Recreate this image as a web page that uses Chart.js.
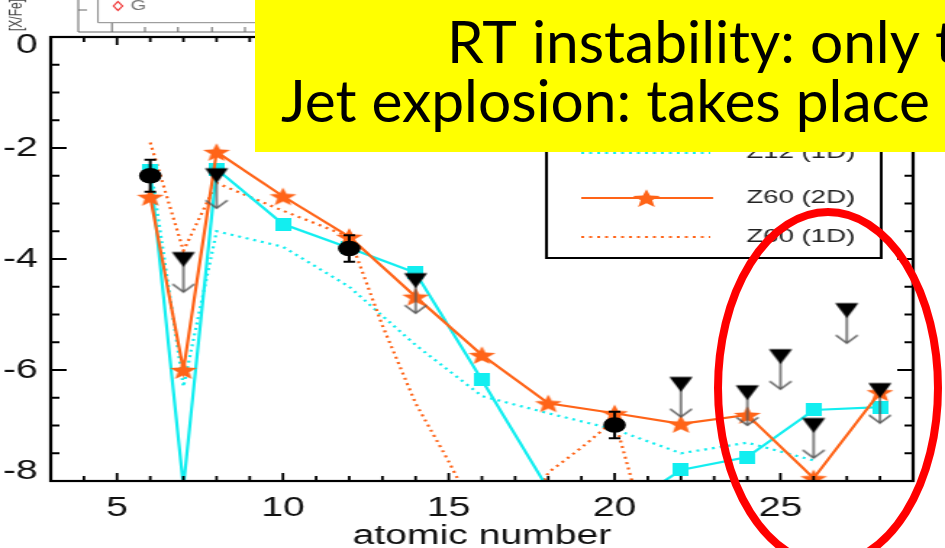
<!DOCTYPE html>
<html>
<head>
<meta charset="utf-8">
<script src="https://cdn.jsdelivr.net/npm/chart.js@4.4.1/dist/chart.umd.min.js"></script>
<style>
  html, body { margin: 0; padding: 0; background: #fff; overflow: hidden; }
  #stage { position: relative; width: 945px; height: 548px; overflow: hidden; }
  #overlay { position: absolute; left: 0; top: 0; pointer-events: none; }
</style>
</head>
<body>
<div id="stage">
  <canvas id="chart" width="652" height="548" style="position:absolute;left:0;top:0;width:945px;height:548px"></canvas>
  <canvas id="overlay" width="945" height="548"></canvas>
</div>
<script>
// observed abundances with error bars
const obsZ = [6, 12, 20];
const obsVal = [-2.5, -3.81, -6.99];
const obsErr = [0.29, 0.24, 0.24];

// upper limits
const limZ = [7, 8, 14, 22, 24, 25, 26, 27, 28];
const limVal = [-4.01, -2.5, -4.39, -6.26, -6.41, -5.76, -7.0, -4.93, -6.37];

// 2D models
const modelZ = [6, 7, 8, 10, 12, 14, 16, 18, 20, 22, 24, 26, 28];
const z60_2D = [-2.88, -6.0, -2.07, -2.87, -3.6, -4.68, -5.73, -6.6, -6.78, -6.97, -6.81, -7.95, -6.4];
const z12_2D = [-2.4, -8.1, -2.38, -3.37, -3.8, -4.25, -6.18, -8.15, -8.6, -7.8, -7.57, -6.72, -6.67];

// 1D models
const z12_1D_Z = [6, 7, 8, 10, 12, 14, 16, 18, 20, 22, 24, 26];
const z12_1D = [-2.3, -6.3, -3.5, -3.78, -4.5, -5.55, -6.47, -6.78, -7.07, -7.5, -7.31, -7.63];
const z60_1D_Z = [6, 7, 8, 10, 12, 13, 14, 15, 16, 17, 18, 19, 20, 21];
const z60_1D = [-1.9, -3.85, -2.63, -3.13, -3.6, -5.2, -6.6, -7.65, -8.8, -9.0, -7.85, -7.4, -6.9, -9.0];

const xTicks = [5, 10, 15, 20, 25];
const yTicks = [0, -2, -4, -6, -8];
const noteLines = ['RT instability: only t', 'Jet explosion: takes place'];

const ORANGE = '#ff6418';
const CYAN = '#12eef0';
const FONT = "'Liberation Sans', Arial, sans-serif";

function pts(zs, vals) {
  return zs.map((z, i) => ({x: z, y: vals[i]}));
}

// marker sprites (drawn on the narrow canvas, widened by the css stretch)
function starSprite(color) {
  const c = document.createElement('canvas');
  c.width = 22; c.height = 22;
  const g = c.getContext('2d');
  g.fillStyle = color;
  g.beginPath();
  for (let i = 0; i < 10; i++) {
    const r = i % 2 ? 4.2 : 9.8;
    const a = -Math.PI / 2 + i * Math.PI / 5;
    g.lineTo(11 + r * Math.cos(a), 12 + r * Math.sin(a));
  }
  g.closePath();
  g.fill();
  return c;
}

function squareSprite(color) {
  const c = document.createElement('canvas');
  c.width = 11; c.height = 13;
  const g = c.getContext('2d');
  g.fillStyle = color;
  g.fillRect(0, 0, 11, 13);
  return c;
}

function limitSprite() {
  const c = document.createElement('canvas');
  c.width = 18; c.height = 68;
  const g = c.getContext('2d');
  const cx = 9, cy = 34;
  g.strokeStyle = '#555';
  g.lineWidth = 1.4;
  g.beginPath(); g.moveTo(cx, cy + 5); g.lineTo(cx, cy + 32.5); g.stroke();
  g.beginPath(); g.moveTo(cx - 7.5, cy + 24.5); g.lineTo(cx, cy + 32.5); g.lineTo(cx + 7.5, cy + 24.5); g.stroke();
  g.fillStyle = '#000';
  g.beginPath(); g.moveTo(cx - 8, cy - 7.5); g.lineTo(cx + 8, cy - 7.5); g.lineTo(cx, cy + 7.5); g.closePath(); g.fill();
  return c;
}

const starImg = starSprite(ORANGE);
const squareImg = squareSprite(CYAN);
const limitImg = limitSprite();

const errorBars = {
  id: 'errorBars',
  afterDatasetsDraw(chart) {
    const {ctx, scales: {x, y}} = chart;
    ctx.save();
    ctx.strokeStyle = '#000';
    ctx.lineWidth = 2;
    obsZ.forEach((z, i) => {
      const px = x.getPixelForValue(z);
      const y1 = y.getPixelForValue(obsVal[i] + obsErr[i]);
      const y2 = y.getPixelForValue(obsVal[i] - obsErr[i]);
      ctx.beginPath();
      ctx.moveTo(px, y1); ctx.lineTo(px, y2);
      ctx.moveTo(px - 4, y1); ctx.lineTo(px + 4, y1);
      ctx.moveTo(px - 4, y2); ctx.lineTo(px + 4, y2);
      ctx.stroke();
    });
    ctx.restore();
  }
};

const frame = {
  id: 'frame',
  beforeDraw(chart) {
    // bits of the panel sitting above this one
    const ctx = chart.ctx;
    ctx.save();
    ctx.strokeStyle = '#666';
    ctx.lineWidth = 1;
    ctx.beginPath();
    ctx.moveTo(54, 0); ctx.lineTo(54, 32); ctx.lineTo(420, 32);
    ctx.moveTo(54, 10); ctx.lineTo(60, 10);
    [77.2, 100, 122.8, 146.2, 169].forEach((tx, i) => {
      ctx.moveTo(tx, 32); ctx.lineTo(tx, i === 0 ? 23 : 27);
    });
    ctx.stroke();
    ctx.strokeStyle = '#888';
    ctx.beginPath();
    ctx.moveTo(67.6, 0); ctx.lineTo(67.6, 22.7); ctx.lineTo(420, 22.7);
    ctx.stroke();
    ctx.strokeStyle = '#f03030';
    ctx.lineWidth = 1.2;
    ctx.beginPath();
    ctx.moveTo(81.4, 1.5); ctx.lineTo(84.5, 6); ctx.lineTo(81.4, 10.5); ctx.lineTo(78.3, 6); ctx.closePath();
    ctx.stroke();
    ctx.fillStyle = '#777';
    ctx.font = '14px ' + FONT;
    ctx.textBaseline = 'middle';
    ctx.fillText('G', 90, 6.5);
    ctx.translate(12, 31);
    ctx.rotate(-Math.PI / 2);
    ctx.fillStyle = '#444';
    ctx.font = '12px ' + FONT;
    ctx.textBaseline = 'middle';
    ctx.fillText('[X/Fe]', 0, 0);
    ctx.restore();
  },
  afterDraw(chart) {
    const {ctx, chartArea: a, scales: {x, y}} = chart;
    ctx.save();
    ctx.strokeStyle = '#000';
    ctx.lineWidth = 1.8;
    ctx.beginPath();
    for (let v = 3; v <= 29; v++) {
      const px = x.getPixelForValue(v);
      const len = v % 5 === 0 ? 8 : 5;
      ctx.moveTo(px, a.bottom); ctx.lineTo(px, a.bottom - len);
      ctx.moveTo(px, a.top); ctx.lineTo(px, a.top + len);
    }
    ctx.stroke();
    ctx.lineWidth = 2;
    ctx.beginPath();
    for (let v = -8; v <= 0; v += 0.5) {
      const py = y.getPixelForValue(v);
      const len = v % 2 === 0 ? 11 : 6;
      ctx.moveTo(a.left, py); ctx.lineTo(a.left + len, py);
      ctx.moveTo(a.right, py); ctx.lineTo(a.right - len, py);
    }
    ctx.stroke();
    ctx.lineWidth = 2.2;
    ctx.strokeRect(a.left, a.top, a.right - a.left, a.bottom - a.top);

    // y tick labels, end labels kept inside the frame height
    ctx.fillStyle = '#111';
    ctx.font = '27px ' + FONT;
    ctx.textAlign = 'right';
    ctx.textBaseline = 'middle';
    yTicks.forEach(v => {
      const py = Math.min(Math.max(y.getPixelForValue(v), a.top + 8), a.bottom - 10);
      ctx.fillText(String(v), a.left - 9, py + 1);
    });
    ctx.textAlign = 'left';

    // legend box
    ctx.fillStyle = '#fff';
    ctx.fillRect(377, 96, 231, 162);
    ctx.lineWidth = 2;
    ctx.strokeRect(377, 96, 231, 162);
    ctx.lineWidth = 2.2;
    ctx.setLineDash([2, 3.5]);
    ctx.strokeStyle = CYAN;
    ctx.beginPath(); ctx.moveTo(401, 153); ctx.lineTo(490, 153); ctx.stroke();
    ctx.strokeStyle = ORANGE;
    ctx.beginPath(); ctx.moveTo(401, 237); ctx.lineTo(490, 237); ctx.stroke();
    ctx.setLineDash([]);
    ctx.beginPath(); ctx.moveTo(401, 198); ctx.lineTo(492, 198); ctx.stroke();
    ctx.drawImage(starImg, 446 - 11, 198 - 11);
    ctx.fillStyle = '#222';
    ctx.font = '19px ' + FONT;
    ctx.textBaseline = 'middle';
    ctx.fillText('Z12 (1D)', 515, 153);
    ctx.fillText('Z60 (2D)', 515, 198);
    ctx.fillText('Z60 (1D)', 515, 237);
    ctx.restore();
  }
};

new Chart(document.getElementById('chart'), {
  type: 'scatter',
  data: {
    datasets: [
      {
        label: 'observed',
        data: pts(obsZ, obsVal),
        showLine: false,
        pointStyle: 'circle',
        pointRadius: 7.8,
        pointBackgroundColor: '#000',
        pointBorderWidth: 0,
        clip: 0
      },
      {
        label: 'upper limits',
        data: pts(limZ, limVal),
        showLine: false,
        pointStyle: limitImg,
        pointRadius: 8,
        clip: 0
      },
      {
        label: 'Z60 (2D)',
        data: pts(modelZ, z60_2D),
        showLine: true,
        borderColor: ORANGE,
        borderWidth: 2.2,
        pointStyle: starImg,
        pointRadius: 9,
        clip: 0
      },
      {
        label: 'Z12 (2D)',
        data: pts(modelZ, z12_2D),
        showLine: true,
        borderColor: CYAN,
        borderWidth: 2.2,
        pointStyle: squareImg,
        pointRadius: 6,
        clip: 0
      },
      {
        label: 'Z60 (1D)',
        data: pts(z60_1D_Z, z60_1D),
        showLine: true,
        borderColor: ORANGE,
        borderWidth: 2.2,
        borderDash: [2, 3.5],
        pointRadius: 0,
        clip: 0
      },
      {
        label: 'Z12 (1D)',
        data: pts(z12_1D_Z, z12_1D),
        showLine: true,
        borderColor: CYAN,
        borderWidth: 2.2,
        borderDash: [2, 3.5],
        pointRadius: 0,
        clip: 0
      }
    ]
  },
  options: {
    responsive: false,
    devicePixelRatio: 1,
    animation: false,
    layout: { padding: { top: 37, right: 22, left: 0, bottom: 0 } },
    plugins: { legend: { display: false }, tooltip: { enabled: false } },
    scales: {
      x: {
        type: 'linear',
        min: 3,
        max: 29,
        grid: { display: false, drawTicks: false },
        border: { display: false },
        afterBuildTicks: (s) => { s.ticks = xTicks.map(v => ({value: v})); },
        afterFit: (s) => { s.height = 67; },
        ticks: { padding: 11, color: '#111', font: { size: 27, family: FONT }, maxRotation: 0, autoSkip: false },
        title: {
          display: true,
          text: 'atomic number',
          color: '#111',
          font: { size: 27, family: FONT, lineHeight: 1 },
          padding: { top: 0, bottom: -2 }
        }
      },
      y: {
        type: 'linear',
        min: -8,
        max: 0,
        grid: { display: false, drawTicks: false },
        border: { display: false },
        afterBuildTicks: (s) => { s.ticks = yTicks.map(v => ({value: v})); },
        afterFit: (s) => { s.width = 35; },
        ticks: { display: false }
      }
    }
  },
  plugins: [frame, errorBars]
});

// yellow note and red ring on top of the figure
const ov = document.getElementById('overlay').getContext('2d');
ov.fillStyle = '#ffff00';
ov.fillRect(255, 0, 690, 152);
let fs = 60;
ov.font = fs + 'px Lato, sans-serif';
fs = fs * 649 / ov.measureText(noteLines[1]).width;
ov.font = fs + 'px Lato, sans-serif';
ov.fillStyle = '#000';
ov.textBaseline = 'alphabetic';
ov.fillText(noteLines[0], 447, 63);
ov.fillText(noteLines[1], 281, 122);
ov.strokeStyle = '#ff0000';
ov.lineWidth = 8;
ov.beginPath();
ov.ellipse(828, 388, 110, 176, 0, 0, Math.PI * 2);
ov.stroke();
</script>
</body>
</html>
